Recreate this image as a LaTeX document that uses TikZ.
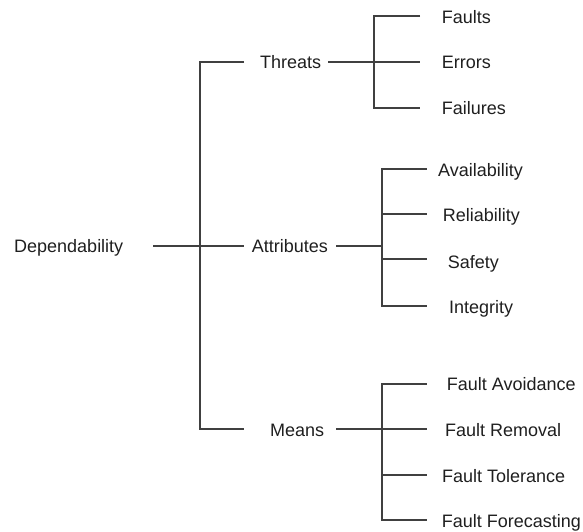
\documentclass[tikz,border=0pt]{standalone}
\usepackage{fontspec}
\setmainfont{Liberation Sans}
\begin{document}
\begin{tikzpicture}[x=1pt,y=-1pt,
  lbl/.style={anchor=west,inner xsep=0pt,inner ysep=0pt,text height=12.9pt,text depth=0pt,
    font=\fontsize{18}{20}\selectfont,text=black!88},
  branch/.style={draw=black!75,line width=1.8pt}]
\useasboundingbox (0,0) rectangle (583,531);

% root and second level labels
\node[lbl] (dep) at (14,246) {Dependability};
\node[lbl] (thr) at (260,62.2) {Threats};
\node[lbl] (att) at (251.7,246) {Attributes};
\node[lbl] (mea) at (270,429.7) {Means};

% leaves
\node[lbl] (l1) at (441.7,17) {Faults};
\node[lbl] (l2) at (441.7,62.3) {Errors};
\node[lbl] (l3) at (441.7,108.3) {Failures};
\node[lbl] (a1) at (438,170) {Availability};
\node[lbl] (a2) at (442.7,215) {Reliability};
\node[lbl] (a3) at (447.7,261.7) {Safety};
\node[lbl] (a4) at (449,307) {Integrity};
\node[lbl] (m1) at (446.7,384.5) {Fault Avoidance};
\node[lbl] (m2) at (445,429.7) {Fault Removal};
\node[lbl] (m3) at (442,476) {Fault Tolerance};
\node[lbl] (m4) at (441.7,521) {Fault Forecasting};

% line ends and junctions
\coordinate (d0) at (153,246);
\coordinate (tr) at (200,62);
\coordinate (tm) at (200,246);
\coordinate (tb) at (200,429);
\coordinate (t1) at (244,62);
\coordinate (t2) at (244,246);
\coordinate (t3) at (244,429);

\coordinate (ts) at (328,62);
\coordinate (tj1) at (374,15.7);
\coordinate (tj2) at (374,62);
\coordinate (tj3) at (374,108);
\coordinate (te1) at (420,15.7);
\coordinate (te2) at (420,62);
\coordinate (te3) at (420,108);

\coordinate (as) at (336,246);
\coordinate (aj1) at (381.7,169.3);
\coordinate (ajm) at (381.7,246);
\coordinate (aj2) at (381.7,214.3);
\coordinate (aj3) at (381.7,259.3);
\coordinate (aj4) at (381.7,306);
\coordinate (ae1) at (426.7,169.3);
\coordinate (ae2) at (426.7,214.3);
\coordinate (ae3) at (426.7,259.3);
\coordinate (ae4) at (426.7,306);

\coordinate (ms) at (336,429);
\coordinate (mj1) at (381.7,383.7);
\coordinate (mjm) at (381.7,429);
\coordinate (mj3) at (381.7,475);
\coordinate (mj4) at (381.7,520);
\coordinate (me1) at (426.7,383.7);
\coordinate (me2) at (426.7,429);
\coordinate (me3) at (426.7,475);
\coordinate (me4) at (426.7,520);

% root bracket
\draw[branch] (t1) -- (tr) -- (tb) -- (t3);
\draw[branch] (d0) -- (t2);

% threats bracket
\draw[branch] (te1) -- (tj1) -- (tj3) -- (te3);
\draw[branch] (ts) -- (te2);

% attributes bracket
\draw[branch] (ae1) -- (aj1) -- (aj4) -- (ae4);
\draw[branch] (as) -- (ajm);
\draw[branch] (aj2) -- (ae2);
\draw[branch] (aj3) -- (ae3);

% means bracket
\draw[branch] (me1) -- (mj1) -- (mj4) -- (me4);
\draw[branch] (ms) -- (me2);
\draw[branch] (mj3) -- (me3);
\end{tikzpicture}
\end{document}
